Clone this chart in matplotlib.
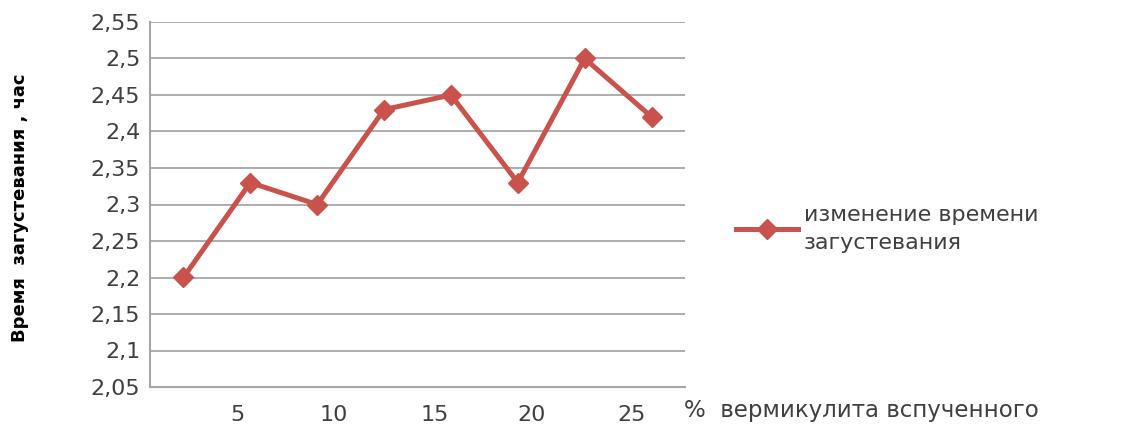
import matplotlib.pyplot as plt
from matplotlib.ticker import FuncFormatter

# data
categories = [1, 2, 3, 4, 5, 6, 7, 8]
times = [2.20, 2.33, 2.30, 2.43, 2.45, 2.33, 2.50, 2.42]
x_tick_labels = ["5", "10", "15", "20", "25"]
series_name = "изменение времени\nзагустевания"

line_color = "#c9524c"
grid_color = "#a6a6a6"
text_color = "#404040"

fig = plt.figure(figsize=(11.3, 4.25), dpi=100)
ax = fig.add_axes([150 / 1130, 1 - 387 / 425, 535 / 1130, 365 / 425])

idx = list(range(len(categories)))
ax.plot(idx, times, color=line_color, lw=3.6, marker="D", ms=10.5,
        mec=line_color, mfc=line_color, label=series_name)

ax.set_xlim(-0.5, len(categories) - 0.5)
ax.set_ylim(2.05, 2.55)
ax.set_yticks([2.05 + 0.05 * i for i in range(11)])
ax.yaxis.set_major_formatter(FuncFormatter(lambda v, p: f"{v:.2f}".rstrip("0").replace(".", ",")))
ax.grid(axis="y", color=grid_color, lw=1.3)
ax.set_axisbelow(True)

# x labels sit between the points in the original
ax.set_xticks([0.80, 2.25, 3.76, 5.21, 6.70])
ax.set_xticklabels(x_tick_labels)
ax.tick_params(axis="x", length=0, pad=13, labelsize=16, labelcolor=text_color)
ax.tick_params(axis="y", length=0, pad=7, labelsize=16, labelcolor=text_color)

for s in ["top", "right"]:
    ax.spines[s].set_visible(False)
for s in ["left", "bottom"]:
    ax.spines[s].set_color(grid_color)
    ax.spines[s].set_linewidth(1.5)

fig.text(684 / 1130, 1 - 411 / 425, "%  вермикулита вспученного", fontsize=16.5,
         color=text_color, va="center", ha="left")

fig.text(20 / 1130, 1 - 208 / 425, "Время  загустевания , час", rotation=90,
         fontsize=13, fontweight="bold", va="center", ha="center",
         family=["Liberation Sans Narrow", "DejaVu Sans"])

leg = fig.legend(loc="center left", bbox_to_anchor=(716 / 1130, 1 - 229 / 425),
                 frameon=False, fontsize=16, handlelength=2.8, handletextpad=0.25)
for t in leg.get_texts():
    t.set_color(text_color)
    t.set_linespacing(1.5)

fig.savefig("out.png", dpi=100)
